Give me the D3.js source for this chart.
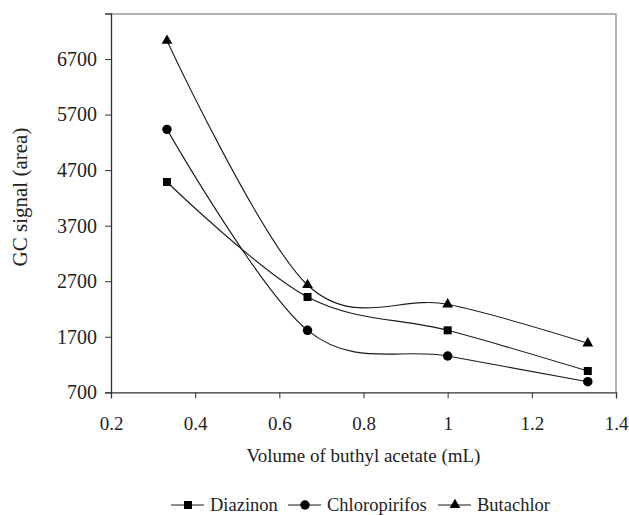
<!DOCTYPE html>
<html>
<head>
<meta charset="utf-8">
<script src="https://cdn.jsdelivr.net/npm/d3@7"></script>
<style>
	body{margin:0;background:#fff;}
	svg text{font-family:"Times New Roman","Liberation Serif","DejaVu Serif",serif;fill:#222;}
</style>
</head>
<body>
<div id="chart"></div>
<script>
// data
const volumes = [0.333, 0.667, 1, 1.333];
const diazinon = [4486, 2416, 1816, 1083];
const chloropirifos = [5434, 1816, 1353, 891];
const butachlor = [7030, 2632, 2284, 1582];
const xTicks = [0.2, 0.4, 0.6, 0.8, 1, 1.2, 1.4];
const yTicks = [700, 1700, 2700, 3700, 4700, 5700, 6700];

const FONT = '"Times New Roman","Liberation Serif","DejaVu Serif",serif';

const series = [
	{name:'Diazinon', values:diazinon, symbol:d3.symbolSquare, size:64, lx:188},
	{name:'Chloropirifos', values:chloropirifos, symbol:d3.symbolCircle, size:70, lx:305},
	{name:'Butachlor', values:butachlor, symbol:d3.symbolTriangle, size:50, lx:455}
];

const W = 629, H = 515;
const _m = {t:13.5, r:13, l:111, b:122.7};
const _w = W - _m.l - _m.r,
	_h = H - _m.t - _m.b;

const _scaleX = d3.scaleLinear().domain([0.2,1.4]).range([0,_w]),
	_scaleY = d3.scaleLinear().domain([700,7520]).range([_h,0]);

const _svg = d3.select('#chart').append('svg')
	.attr('width',W)
	.attr('height',H)
	.attr('font-family',FONT);
const _graphic = _svg.append('g')
	.attr('transform',`translate(${_m.l},${_m.t})`);

// top and right frame
_graphic.append('path')
	.attr('d',`M0,0.5H${_w}V${_h}`)
	.style('fill','none')
	.style('stroke','#999')
	.style('stroke-width','1.5px');

const xAxis = _graphic.append('g')
	.attr('transform',`translate(0,${_h})`)
	.call(d3.axisBottom(_scaleX).tickValues(xTicks).tickFormat(d3.format('~g')).tickSizeOuter(0).tickSize(6).tickPadding(18));
const yAxis = _graphic.append('g')
	.call(d3.axisLeft(_scaleY).tickValues(yTicks).tickFormat(d3.format('d')).tickSizeOuter(0).tickSize(6).tickPadding(8));

xAxis.attr('font-size',19);
yAxis.attr('font-size',20);
[xAxis,yAxis].forEach(a=>{
	a.attr('font-family',FONT);
	a.select('.domain').style('stroke','#333').style('stroke-width','1.3px');
	a.selectAll('.tick line').style('stroke','#333');
	a.selectAll('text').style('fill','#222');
});

_svg.append('text')
	.attr('x',_m.l + _w/2)
	.attr('y',462)
	.attr('text-anchor','middle')
	.style('font-size','19px')
	.text('Volume of buthyl acetate (mL)');

_svg.append('text')
	.attr('transform','translate(27,197) rotate(-90)')
	.attr('text-anchor','middle')
	.style('font-size','21px')
	.text('GC signal (area)');

const line = d3.line()
	.x((d,i)=>_scaleX(volumes[i]))
	.y(d=>_scaleY(d))
	.curve(d3.curveCardinal.tension(0));

series.forEach(s=>{
	_graphic.append('path')
		.datum(s.values)
		.attr('d',line)
		.style('fill','none')
		.style('stroke','#1a1a1a')
		.style('stroke-width','1.1px');
	_graphic.selectAll(null)
		.data(s.values)
		.enter()
		.append('path')
		.attr('transform',(d,i)=>`translate(${_scaleX(volumes[i])},${_scaleY(d)})`)
		.attr('d',d3.symbol().type(s.symbol).size(s.size))
		.style('fill','#000');
});

// legend
const legend = _svg.append('g').attr('transform','translate(0,505)');
series.forEach(s=>{
	const item = legend.append('g').attr('transform',`translate(${s.lx},0)`);
	item.append('line')
		.attr('x1',-17).attr('x2',16)
		.style('stroke','#1a1a1a')
		.style('stroke-width','1.1px');
	item.append('path')
		.attr('d',d3.symbol().type(s.symbol).size(s.size))
		.style('fill','#000');
	item.append('text')
		.attr('x',22)
		.attr('dy','0.35em')
		.style('font-size','18.5px')
		.text(s.name);
});
</script>
</body>
</html>
